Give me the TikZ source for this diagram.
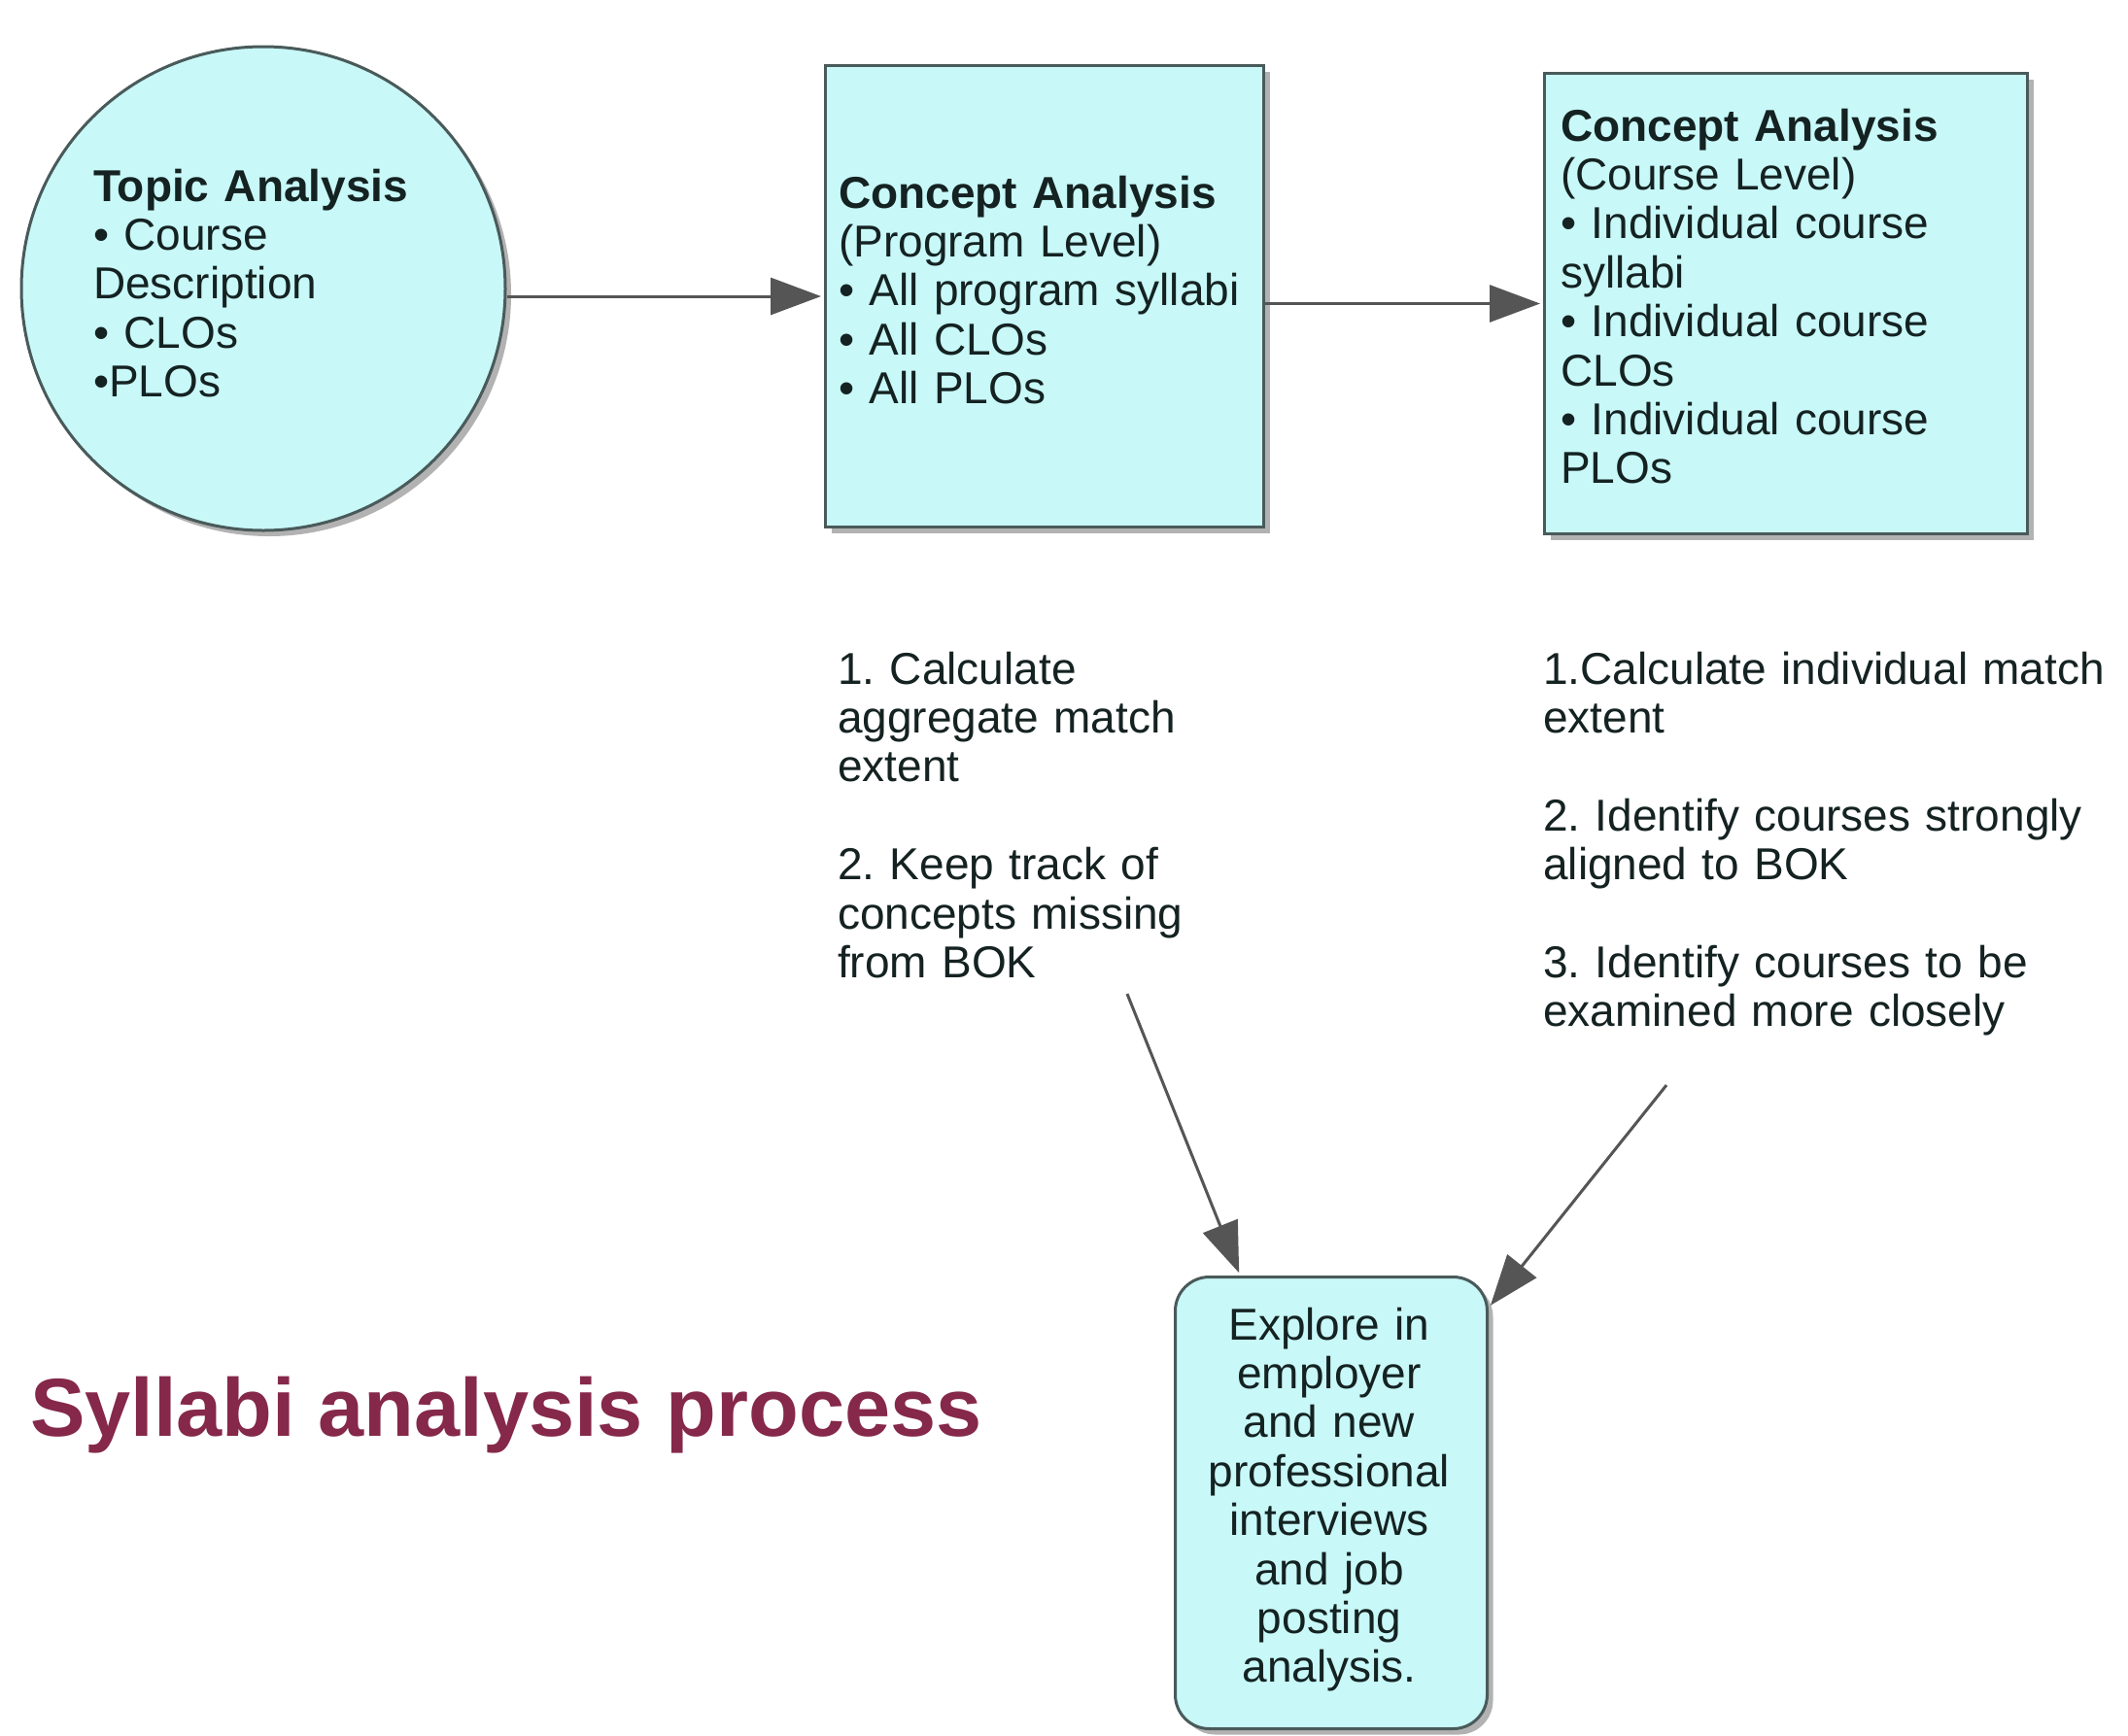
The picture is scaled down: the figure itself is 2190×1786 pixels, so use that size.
\documentclass[tikz,border=0pt]{standalone}
\usepackage{fontspec}
\setmainfont{Liberation Sans}
\usetikzlibrary{arrows.meta,shadows}
\definecolor{boxfill}{HTML}{C8F8F8}
\definecolor{bordc}{HTML}{4A5A5A}
\definecolor{txtc}{HTML}{152222}
\definecolor{arrc}{HTML}{555555}
\definecolor{titlec}{HTML}{85284A}
\frenchspacing
\begin{document}
\begin{tikzpicture}[x=1pt,y=-1pt,
  shp/.style={draw=bordc, line width=3pt, fill=boxfill, inner sep=0pt,
    drop shadow={shadow xshift=6pt, shadow yshift=-6pt, fill=black, opacity=0.3}},
  txt/.style={text=txtc, inner sep=0pt, align=left,
    font=\fontsize{46}{50.4}\selectfont},
  conn/.style={draw=arrc, line width=3pt, -{Triangle[length=52pt,width=38pt]}, shorten >=3pt}]
\fill[white] (0,0) rectangle (2190,1786);
\useasboundingbox (0,0) rectangle (2190,1786);

% shapes
\node[shp, circle, minimum size=498pt] (topic) at (271,297) {};
\node[shp, rectangle, minimum width=451pt, minimum height=475pt, anchor=north west] (prog) at (848,66) {};
\node[shp, rectangle, minimum width=497pt, minimum height=474pt, anchor=north west] (course) at (1588,74) {};
\node[shp, rectangle, rounded corners=35pt, minimum width=321pt, minimum height=465pt, anchor=north west] (explore) at (1208,1313) {};

% texts
\node[txt, anchor=base west, text width=380pt] (topict) at (96,207)
  {\textbf{Topic Analysis}\\• Course\\Description\\• CLOs\\•PLOs};
\node[txt, anchor=base west, text width=430pt] (progt) at (863,214)
  {\textbf{Concept Analysis}\\(Program Level)\\• All program syllabi\\• All CLOs\\• All PLOs};
\node[txt, anchor=base west, text width=470pt] (courset) at (1606,145)
  {\textbf{Concept Analysis}\\(Course Level)\\• Individual course\\syllabi\\• Individual course\\CLOs\\• Individual course\\PLOs};
\node[txt, anchor=base, align=center, text width=310pt] (exploret) at (1368,1379)
  {Explore in\\employer\\and new\\professional\\interviews\\and job\\posting\\analysis.};

\node[txt, anchor=base west, text width=560pt] (note1) at (862,704)
  {1. Calculate\\aggregate match\\extent\\[50.4pt]2. Keep track of\\concepts missing\\from BOK};
\node[txt, anchor=base west, text width=600pt] (note2) at (1588,704)
  {1.Calculate individual match\\extent\\[50.4pt]2. Identify courses strongly\\aligned to BOK\\[50.4pt]3. Identify courses to be\\examined more closely};

\node[anchor=base west, inner sep=0pt, text=titlec,
  font=\bfseries\fontsize{84.7}{90}\selectfont] (title) at (31,1478) {Syllabi analysis process};

% connectors
\coordinate (s1) at (1160,1023);
\coordinate (s2) at (1715,1117);
\draw[conn] (topic.east |- prog.west) -- (prog.west);
\draw[conn] (prog.east |- course.west) -- (course.west);
\draw[conn] (s1) -- (explore);
\draw[conn] (s2) -- (explore);
\end{tikzpicture}
\end{document}
